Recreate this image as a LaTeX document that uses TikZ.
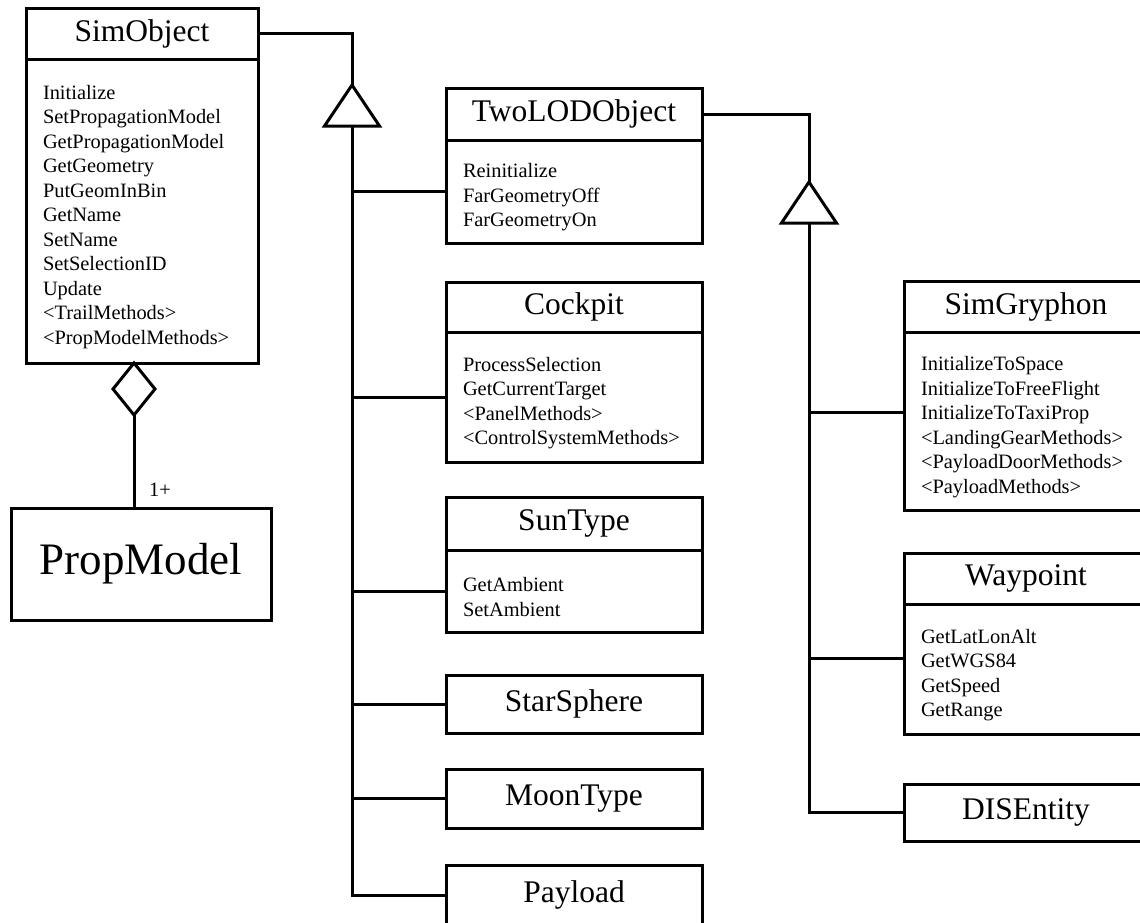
\documentclass[tikz,border=0pt]{standalone}
\usepackage{fontspec}
\setmainfont{Liberation Serif}
\usepackage{tikz}
\usetikzlibrary{shapes.geometric, positioning, calc}
\newcommand{\clsfont}{\fontsize{31.5}{38}\selectfont}
\newcommand{\opfont}{\fontsize{20.4}{24.5}\selectfont}
\newcommand{\bigfont}{\fontsize{45}{54}\selectfont}
\tikzset{
    umlline/.style={line width=3pt},
    clstitle/.style={draw, umlline, font=\clsfont, inner sep=0pt,
                     outer sep=0pt, anchor=north},
    clsbody/.style={draw, umlline, font=\opfont, align=left, inner xsep=17pt,
                    inner ysep=0pt, outer sep=0pt, text height=26pt},
    gentri/.style={umlline, fill=white, line join=miter},
    aggdiamond/.style={diamond, draw, umlline, fill=white, inner sep=0pt,
                       outer sep=0pt, minimum width=42pt, minimum height=52pt}
}

\begin{document}
\begin{tikzpicture}[x=1pt, y=-1pt]
    \useasboundingbox (0,0) rectangle (1140,922);

    % base class
    \node[clstitle, minimum width=232pt, minimum height=51pt]
        (simobj) at (142,8) {SimObject};
    \node[clsbody, text width=198pt, minimum height=304pt, below=0pt of simobj]
        (simobj-b) {Initialize\\ SetPropagationModel\\ GetPropagationModel\\
        GetGeometry\\ PutGeomInBin\\ GetName\\ SetName\\ SetSelectionID\\
        Update\\ <TrailMethods>\\ <PropModelMethods>};
    \node[aggdiamond, anchor=north] (agg) at ([xshift=-8pt]simobj-b.south) {};
    \node[draw, umlline, font=\bigfont, outer sep=0pt, anchor=north,
          minimum width=260pt, minimum height=112pt]
        (prop) at (141,508) {PropModel};
    \node[font=\opfont] (mult) at (160,490) {1+};
    \draw[umlline] (agg.south) -- (agg.south |- prop.north);

    % middle column
    \node[clstitle, minimum width=256pt, minimum height=52pt]
        (twolod) at (574,88) {TwoLODObject};
    \node[clsbody, text width=222pt, minimum height=103pt, below=0pt of twolod]
        (twolod-b) {Reinitialize\\ FarGeometryOff\\ FarGeometryOn};
    \node[clstitle, minimum width=256pt, minimum height=50pt]
        (cockpit) at (574,282) {Cockpit};
    \node[clsbody, text width=222pt, minimum height=130pt, below=0pt of cockpit]
        (cockpit-b) {ProcessSelection\\ GetCurrentTarget\\ <PanelMethods>\\
        <ControlSystemMethods>};
    \node[clstitle, minimum width=256pt, minimum height=53pt]
        (sun) at (574,497) {SunType};
    \node[clsbody, text width=222pt, minimum height=82pt, below=0pt of sun]
        (sun-b) {GetAmbient\\ SetAmbient};
    \node[clstitle, minimum width=256pt, minimum height=58pt]
        (star) at (574,675) {StarSphere};
    \node[clstitle, minimum width=256pt, minimum height=59pt]
        (moon) at (574,769) {MoonType};
    \node[clstitle, minimum width=256pt, minimum height=60pt]
        (payload) at (574,865) {Payload};

    % right column
    \node[clstitle, minimum width=244pt, minimum height=51pt]
        (gryph) at (1026,281) {SimGryphon};
    \node[clsbody, text width=210pt, minimum height=178pt, below=0pt of gryph]
        (gryph-b) {InitializeToSpace\\ InitializeToFreeFlight\\
        InitializeToTaxiProp\\ <LandingGearMethods>\\ <PayloadDoorMethods>\\
        <PayloadMethods>};
    \node[clstitle, minimum width=244pt, minimum height=51pt]
        (waypt) at (1026,553) {Waypoint};
    \node[clsbody, text width=210pt, minimum height=130pt, below=0pt of waypt]
        (waypt-b) {GetLatLonAlt\\ GetWGS84\\ GetSpeed\\ GetRange};
    \node[clstitle, minimum width=244pt, minimum height=57pt]
        (dis) at (1026,784) {DISEntity};

    % inheritance from SimObject
    \coordinate (apexA) at (352,85);
    \coordinate (baseA) at (352,126);
    \draw[umlline] (simobj.east) -| (apexA);
    \draw[gentri] (apexA) -- ++(-27.5,41) -- ++(55,0) -- cycle;
    \draw[umlline] (baseA) |- (payload.west);
    \foreach \cls in {twolod-b, cockpit-b, sun-b, star, moon}
        \draw[umlline] (\cls.west) -| (baseA);

    % inheritance from TwoLODObject
    \coordinate (apexB) at (809,182);
    \coordinate (baseB) at (809,223);
    \draw[umlline] (twolod.east) -| (apexB);
    \draw[gentri] (apexB) -- ++(-27.5,41) -- ++(55,0) -- cycle;
    \draw[umlline] (baseB) |- (dis.west);
    \draw[umlline] ([yshift=9pt]gryph-b.west) -| (baseB);
    \draw[umlline] ([yshift=11pt]waypt-b.west) -| (baseB);
\end{tikzpicture}
\end{document}
